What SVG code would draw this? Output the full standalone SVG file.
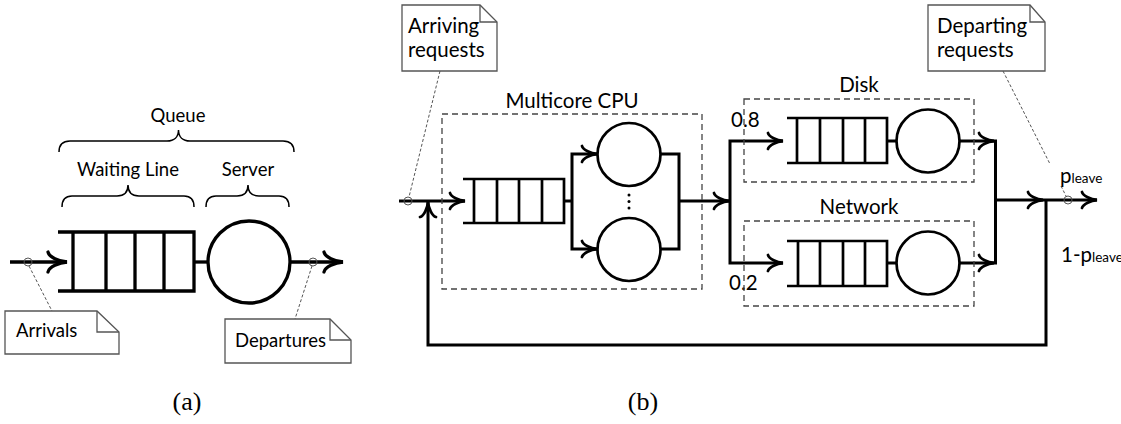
<svg xmlns="http://www.w3.org/2000/svg" width="1121" height="424" viewBox="0 0 1121 424">
<style>
.ln{stroke:#000;stroke-width:3;fill:none;stroke-linejoin:miter}
.lnA{stroke:#000;stroke-width:3.3;fill:none}
.q{stroke:#000;stroke-width:2.7;fill:none}
.srv{stroke:#000;stroke-width:2.7;fill:#fff}
.srvA{stroke:#000;stroke-width:3.3;fill:#fff}
.brace{stroke:#000;stroke-width:1.5;fill:none}
.box{stroke:#444;stroke-width:1.3;fill:none;stroke-dasharray:6 4}
.note{stroke:#555;stroke-width:1.3;fill:#fff}
.fold{stroke:#555;stroke-width:1.3;fill:none}
.lead{stroke:#555;stroke-width:1;stroke-dasharray:3 2;fill:none}
.tap{stroke:#555;stroke-width:1;fill:none}
text{font-family:Lato,"Liberation Sans",sans-serif;fill:#000}
.ta{font-size:18.5px}
.tb{font-size:20.5px}
.sub{font-size:13.5px}
.cap{font-family:"Liberation Serif",serif;font-size:26px}
.mid{text-anchor:middle}
</style>
<defs>
<marker id="arrA" markerUnits="userSpaceOnUse" markerWidth="30" markerHeight="30" refX="0" refY="0" orient="auto" overflow="visible">
<path d="M-19,-10 C-18,-5 -8,-0.6 0,0 C-8,0.6 -18,5 -19,10" fill="none" stroke="#000" stroke-width="3.3" stroke-linecap="round"/>
</marker>
<marker id="arrB" markerUnits="userSpaceOnUse" markerWidth="30" markerHeight="30" refX="0" refY="0" orient="auto" overflow="visible">
<path d="M-15,-8 C-14,-4 -6,-0.5 0,0 C-6,0.5 -14,4 -15,8" fill="none" stroke="#000" stroke-width="2.8" stroke-linecap="round"/>
</marker>
</defs>

<!-- ===== (a) ===== -->
<g id="a-queue">
<path class="lnA" d="M58,232 H194 V291 H58 M73,232 V291 M106,232 V291 M135,232 V291 M164,232 V291"/>
</g>
<g id="a-server">
<circle class="srvA" cx="249" cy="262" r="41"/>
</g>
<g id="a-braces">
<path class="brace" d="M59,152 C59,145 62,141 70,141 H167 C174,141 178.5,137 178.5,130 C178.5,137 183,141 190,141 H283 C290,141 294,145 294,152"/>
<path class="brace" d="M62,207 C62,200 65,196 72,196 H117 C124,196 128,192 128,185 C128,192 132,196 139,196 H184 C191,196 194,200 194,207"/>
<path class="brace" d="M206,207 C206,200 209,196 216,196 H237 C244,196 248,192 248,185 C248,192 252,196 259,196 H279 C286,196 289,200 289,207"/>
<text class="ta mid" x="178" y="122">Queue</text>
<text class="ta mid" x="128" y="176">Waiting Line</text>
<text class="ta mid" x="248" y="176">Server</text>
</g>
<g id="a-connectors">
<path class="lnA" d="M10,262 H67" marker-end="url(#arrA)"/>
<path class="lnA" d="M194,262 H208"/>
<path class="lnA" d="M290,262 H343" marker-end="url(#arrA)"/>
<circle class="tap" cx="28" cy="262" r="4"/>
<circle class="tap" cx="313" cy="262" r="4"/>
<path class="lead" d="M29,266 L52,311"/>
<path class="lead" d="M312,266 L295,319"/>
</g>
<g id="a-arrivals-note">
<path class="note" d="M5,311 H97 L119,332 V354 H5 Z"/>
<path class="fold" d="M97,311 V332 H119"/>
<text class="ta" x="16" y="337">Arrivals</text>
</g>
<g id="a-departures-note">
<path class="note" d="M225,319 H330 L351,340 V363 H225 Z"/>
<path class="fold" d="M330,319 V340 H351"/>
<text class="ta" x="235" y="347">Departures</text>
</g>
<text class="cap mid" x="187" y="410">(a)</text>

<!-- ===== (b) ===== -->
<g id="b-connectors">
<path class="ln" d="M399,201 H465" marker-end="url(#arrB)"/>
<path class="ln" d="M1046,200 V345 H428 V202" marker-end="url(#arrB)"/>
<path class="ln" d="M564,201 H572"/>
<path class="ln" d="M572,201 V154 H597" marker-end="url(#arrB)"/>
<path class="ln" d="M572,201 V249 H597" marker-end="url(#arrB)"/>
<path class="ln" d="M661,154 H679 V249 H661"/>
<path class="ln" d="M679,201 H729" marker-end="url(#arrB)"/>
<path class="ln" d="M730,201 V141 H783" marker-end="url(#arrB)"/>
<path class="ln" d="M730,201 V263 H783" marker-end="url(#arrB)"/>
<path class="ln" d="M887,141 H897"/>
<path class="ln" d="M887,263 H897"/>
<path class="ln" d="M959,141 H994" marker-end="url(#arrB)"/>
<path class="ln" d="M959,263 H994" marker-end="url(#arrB)"/>
<path class="ln" d="M995.5,139.5 V264.5"/>
<path class="ln" d="M995,200 H1043" marker-end="url(#arrB)"/>
<path class="ln" d="M1043,200 H1097" marker-end="url(#arrB)"/>
<circle class="tap" cx="408" cy="201" r="4"/>
<circle class="tap" cx="1068" cy="200" r="4"/>
<path class="lead" d="M440,71 L409,197"/>
<path class="lead" d="M1003,71 L1050,164 M1061,186 L1066,196"/>
<text class="tb" x="731" y="127">0.8</text>
<text class="tb" x="729" y="290">0.2</text>
<text class="tb" x="1060" y="183">p<tspan class="sub">leave</tspan></text>
<text class="tb" x="1061" y="262">1-p<tspan class="sub">leave</tspan></text>
</g>

<g id="b-arriving-note">
<path class="note" d="M402,5 H480 L497,22 V71 H402 Z"/>
<path class="fold" d="M480,5 V22 H497"/>
<text class="tb" x="408" y="33">Arriving</text>
<text class="tb" x="408" y="57">requests</text>
</g>
<g id="b-departing-note">
<path class="note" d="M928,5 H1030 L1045,22 V71 H928 Z"/>
<path class="fold" d="M1030,5 V22 H1045"/>
<text class="tb" x="937" y="33">Departing</text>
<text class="tb" x="937" y="57">requests</text>
</g>

<g id="b-cpu">
<rect class="box" x="442" y="114" width="260" height="175"/>
<text class="tb mid" x="572" y="108">Multicore CPU</text>
<path class="q" d="M463,179 H564 V223 H463 M474,179 V223 M497,179 V223 M519,179 V223 M542,179 V223"/>
<circle class="srv" cx="629" cy="154.5" r="31.5"/>
<circle class="srv" cx="629" cy="249.5" r="31.5"/>
<circle cx="629" cy="195" r="1.5" fill="#000"/>
<circle cx="629" cy="201.5" r="1.5" fill="#000"/>
<circle cx="629" cy="208" r="1.5" fill="#000"/>
</g>

<g id="b-disk">
<rect class="box" x="744" y="99" width="230" height="83"/>
<text class="tb mid" x="859" y="92">Disk</text>
<path class="q" d="M787,118 H887 V163 H787 M797,118 V163 M820,118 V163 M843,118 V163 M865,118 V163"/>
<circle class="srv" cx="928" cy="141" r="31.5"/>
</g>

<g id="b-network">
<rect class="box" x="744" y="221" width="230" height="85"/>
<text class="tb mid" x="859" y="214">Network</text>
<path class="q" d="M787,241 H887 V286 H787 M798,241 V286 M820,241 V286 M843,241 V286 M865,241 V286"/>
<circle class="srv" cx="928" cy="263" r="31.5"/>
</g>
<text class="cap mid" x="643" y="410">(b)</text>
</svg>
